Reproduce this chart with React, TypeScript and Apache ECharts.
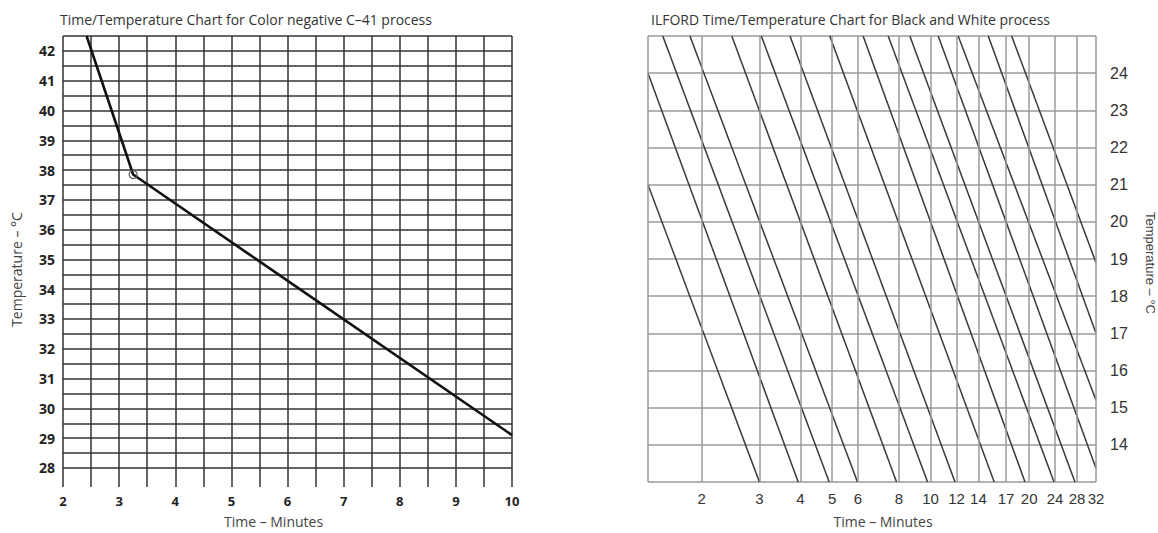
import React, { useEffect, useRef } from 'react';
import * as echarts from 'echarts';

// ---------- Left chart: C-41 ----------
const leftTitle = 'Time/Temperature Chart for Color negative C–41 process';
const leftTimeLabels = [2, 3, 4, 5, 6, 7, 8, 9, 10];
const leftTempLabels = [28, 29, 30, 31, 32, 33, 34, 35, 36, 37, 38, 39, 40, 41, 42];
const leftTempGrid = [28, 28.5, 29, 29.5, 30, 30.5, 31, 31.5, 32, 32.5, 33, 33.5, 34, 34.5, 35, 35.5, 36, 36.5, 37, 37.5, 38, 38.5, 39, 39.5, 40, 40.5, 41, 41.5, 42, 42.5];
const c41Times = [2.42, 3.25, 10];
const c41Temps = [42.5, 37.85, 29.1];

// ---------- Right chart: ILFORD ----------
const rightTitle = 'ILFORD Time/Temperature Chart for Black and White process';
const ilfordTimeLabels = [2, 3, 4, 5, 6, 8, 10, 12, 14, 17, 20, 24, 28, 32];
const ilfordTempLabels = [14, 15, 16, 17, 18, 19, 20, 21, 22, 23, 24];
const ilfordLeftEdge = 1.37;
// each diagonal: start (time, temp) -> end (time, temp)
const ilfordStartTimes = [1.37, 1.37, 1.52, 1.84, 2.47, 3.04, 3.72, 4.92, 6.22, 7.42, 8.64, 10.55, 12.14, 15.0, 17.68];
const ilfordStartTemps = [21, 24, 25, 25, 25, 25, 25, 25, 25, 25, 25, 25, 25, 25, 25];
const ilfordEndTimes = [3.0, 3.94, 4.9, 5.98, 7.87, 9.79, 11.87, 15.64, 19.42, 23.82, 27.6, 32, 32, 32, 32];
const ilfordEndTemps = [13, 13, 13, 13, 13, 13, 13, 13, 13, 13, 13, 13.37, 15.2, 17.0, 18.9];

const FONT = '"Open Sans", "Noto Sans", sans-serif';
const ARIAL = '"Liberation Sans", Arial, sans-serif';

export default function App() {
  const ref = useRef<HTMLDivElement>(null);
  useEffect(() => {
    if (!ref.current) return;
    const chart = echarts.init(ref.current, undefined, { renderer: 'svg' });

    const c41Data = c41Times.map((t, i) =>
      i === 1
        ? {
            value: [t, c41Temps[i]],
            symbol: 'circle',
            symbolSize: 8,
            itemStyle: { color: 'rgba(255,255,255,0)', borderColor: '#555', borderWidth: 1.2 },
          }
        : { value: [t, c41Temps[i]], symbol: 'none' }
    );

    const ilfordSeries = ilfordStartTimes.map((t, i) => ({
      type: 'line',
      xAxisIndex: 1,
      yAxisIndex: 1,
      data: [
        [t, ilfordStartTemps[i]],
        [ilfordEndTimes[i], ilfordEndTemps[i]],
      ],
      symbol: 'none',
      silent: true,
      z: 3,
      lineStyle: { color: '#3a3a3a', width: 1.5 },
    }));

    const vGrid = [ilfordLeftEdge, ...ilfordTimeLabels].map((v) => ({
      xAxis: v,
      label: { show: ilfordTimeLabels.includes(v) },
    }));

    chart.setOption({
      animation: false,
      backgroundColor: '#fff',
      title: [
        { text: leftTitle, left: 55, top: 7, textStyle: { fontFamily: FONT, fontSize: 14, fontWeight: 'normal', color: '#333' } },
        { text: rightTitle, left: 646, top: 7, textStyle: { fontFamily: FONT, fontSize: 14, fontWeight: 'normal', color: '#333' } },
      ],
      grid: [
        { left: 63, right: 646, top: 36, bottom: 46 },
        { left: 648, right: 62, top: 36, bottom: 46 },
      ],
      xAxis: [
        {
          type: 'value',
          gridIndex: 0,
          min: 2,
          max: 10,
          interval: 0.5,
          axisLine: { show: false },
          axisTick: { show: false },
          splitLine: { show: true, lineStyle: { color: '#333', width: 1.5 } },
          axisLabel: {
            margin: 7,
            fontFamily: FONT,
            fontWeight: 'bold',
            fontSize: 13,
            color: '#222',
            formatter: (v: number) => (leftTimeLabels.includes(v) ? String(v) : ''),
          },
          name: 'Time – Minutes',
          nameLocation: 'middle',
          nameGap: 27,
          nameTextStyle: { fontFamily: FONT, fontSize: 14, color: '#444', padding: [0, 28, 0, 0] },
        },
        {
          type: 'log',
          gridIndex: 1,
          min: ilfordLeftEdge,
          max: 32,
          axisLine: { show: false },
          axisTick: { show: false },
          splitLine: { show: false },
          axisLabel: { show: false },
          name: 'Time – Minutes',
          nameLocation: 'middle',
          nameGap: 32,
          nameTextStyle: { fontFamily: FONT, fontSize: 14, color: '#444', padding: [0, 0, 0, 22] },
        },
      ],
      yAxis: [
        {
          type: 'value',
          gridIndex: 0,
          min: 27.36,
          max: 42.5,
          axisLine: { show: false },
          axisTick: { show: false, customValues: leftTempGrid },
          splitLine: { show: true, lineStyle: { color: '#333', width: 1.5 } },
          axisLabel: {
            customValues: leftTempLabels,
            margin: 8,
            fontFamily: FONT,
            fontWeight: 'bold',
            fontSize: 14,
            color: '#222',
          },
          name: 'Temperature – °C',
          nameLocation: 'middle',
          nameRotate: 90,
          nameGap: 40,
          nameTextStyle: { fontFamily: FONT, fontSize: 14, color: '#444', padding: [0, 16, 0, 0] },
        },
        {
          type: 'value',
          gridIndex: 1,
          position: 'right',
          min: 13,
          max: 25,
          interval: 1,
          axisLine: { show: false },
          axisTick: { show: false },
          splitLine: { show: true, lineStyle: { color: '#9a9a9a', width: 1.5 } },
          axisLabel: {
            margin: 14,
            fontFamily: ARIAL,
            fontSize: 16,
            color: '#333',
            formatter: (v: number) => (ilfordTempLabels.includes(v) ? String(v) : ''),
          },
          name: 'Temperature – °C',
          nameLocation: 'middle',
          nameRotate: -90,
          nameGap: 48,
          nameTextStyle: { fontFamily: ARIAL, fontSize: 13, color: '#444', padding: [0, 0, 0, 8] },
        },
      ],
      series: [
        {
          type: 'line',
          xAxisIndex: 0,
          yAxisIndex: 0,
          data: c41Data,
          symbol: 'none',
          showSymbol: true,
          silent: true,
          z: 3,
          lineStyle: { color: '#111', width: 2.6 },
        },
        {
          type: 'line',
          xAxisIndex: 1,
          yAxisIndex: 1,
          data: [[ilfordLeftEdge, 13]],
          symbol: 'none',
          silent: true,
          z: 1,
          lineStyle: { width: 0 },
          markLine: {
            silent: true,
            symbol: ['none', 'none'],
            animation: false,
            lineStyle: { color: '#9a9a9a', width: 1.5, type: 'solid' },
            label: {
              position: 'start',
              distance: 9,
              fontFamily: ARIAL,
              fontSize: 15,
              color: '#333',
              formatter: (p: any) => String(p.value),
            },
            data: vGrid,
          },
        },
        ...ilfordSeries,
      ],
    });
    return () => chart.dispose();
  }, []);
  return <div ref={ref} style={{ position: 'absolute', left: 0, top: 0, width: 1158, height: 533 }} />;
}
